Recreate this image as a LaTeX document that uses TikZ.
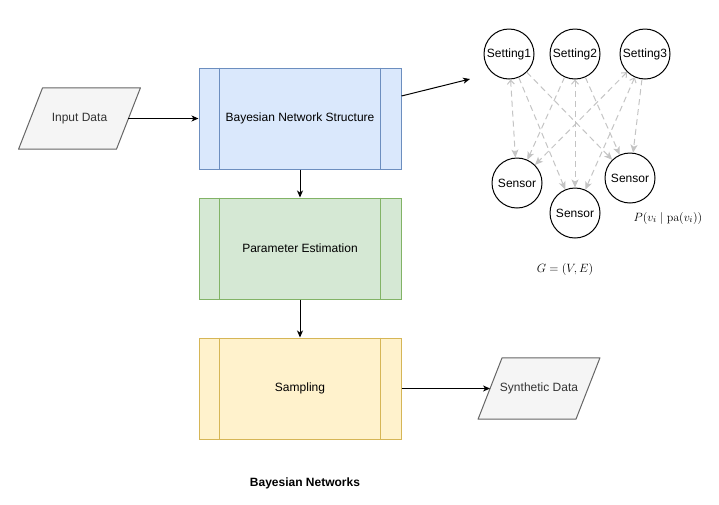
\documentclass[tikz,border=0pt]{standalone}
\usepackage[no-math]{fontspec}
\setmainfont{Liberation Sans}
\usepackage{xcolor}
\usetikzlibrary{arrows.meta,backgrounds}

\definecolor{bnsfill}{HTML}{DAE8FC}
\definecolor{bnsline}{HTML}{6C8EBF}
\definecolor{pefill}{HTML}{D5E8D4}
\definecolor{peline}{HTML}{82B366}
\definecolor{smpfill}{HTML}{FFF2CC}
\definecolor{smpline}{HTML}{D6B656}
\definecolor{iofill}{HTML}{F5F5F5}
\definecolor{ioline}{HTML}{666666}
\definecolor{iotext}{HTML}{333333}
\definecolor{edgegray}{HTML}{C4C4C4}

\tikzset{
  procbox/.style={draw, line width=1pt, minimum width=202pt, minimum height=101pt, inner sep=0pt, font=\fontsize{12}{14}\selectfont},
  iobox/.style={text=iotext, minimum width=97.5pt, minimum height=61pt, inner sep=0pt, font=\fontsize{12}{14}\selectfont},
  ioshape/.style={draw=ioline, fill=iofill, line width=1pt, line join=round},
  varnode/.style={circle, draw, line width=1pt, minimum size=50pt, inner sep=0pt, font=\fontsize{12}{14}\selectfont},
  flow/.style={line width=1pt, -{Stealth[length=7pt,width=6pt,inset=2pt]}},
  depend/.style={edgegray, line width=1pt, dash pattern=on 6pt off 4pt, -{Stealth[length=8pt,width=7pt,inset=2pt]}},
  bothway/.style={{Straight Barb[length=4pt,width=7pt]}-{Stealth[length=8pt,width=7pt,inset=2pt]}}
}

\begin{document}
\begin{tikzpicture}[x=1pt,y=-1pt]
\useasboundingbox (0,0) rectangle (719,504);

% Main flow
\node[iobox] (input) at (79.5,118.5) {Input Data};
\node[procbox, fill=bnsfill, draw=bnsline] (bns) at (300,118.5) {Bayesian Network Structure};
\node[procbox, fill=pefill, draw=peline] (pe) at (300,248.5) {Parameter Estimation};
\node[procbox, fill=smpfill, draw=smpline] (smp) at (300,388.5) {Sampling};
\node[iobox] (synth) at (539,388.5) {Synthetic Data};
% parallelograms behind the data nodes
\begin{pgfonlayer}{background}
\foreach \n in {input, synth}
  \draw[ioshape] ([xshift=-12pt]\n.south west) -- ([xshift=-12pt]\n.south east)
    -- ([xshift=12pt]\n.north east) -- ([xshift=12pt]\n.north west) -- cycle;
\end{pgfonlayer}
% side bars of the process boxes
\foreach \n/\c in {bns/bnsline, pe/peline, smp/smpline} {
  \draw[\c, line width=1pt] ([xshift=21pt]\n.north west) -- ([xshift=21pt]\n.south west);
  \draw[\c, line width=1pt] ([xshift=-21pt]\n.north east) -- ([xshift=-21pt]\n.south east);
}
\draw[flow] (input.east) -- (bns.west);
\draw[flow] (bns.south) -- (pe.north);
\draw[flow] (pe.south) -- (smp.north);
\draw[flow] (smp.east) -- (synth.west);

% Network graph
\coordinate (netin) at (470,79);
\draw[flow] ([yshift=22.5pt]bns.east) -- (netin);
\node[varnode] (set1) at (509,54) {Setting1};
\node[varnode] (set2) at (575,54) {Setting2};
\node[varnode] (set3) at (645,54) {Setting3};
\node[varnode] (senL) at (517,183) {Sensor};
\node[varnode] (senM) at (575,213) {Sensor};
\node[varnode] (senR) at (630,178) {Sensor};
\draw[depend, bothway] (set1) -- (senL);
\draw[depend] (set1) -- (senM);
\draw[depend] (set1) -- (senR);
\draw[depend] (set2) -- (senL);
\draw[depend, bothway] (set2) -- (senM);
\draw[depend] (set2) -- (senR);
\draw[depend, bothway] (set3) -- (senL);
\draw[depend, bothway] (set3) -- (senM);
\draw[depend] (set3) -- (senR);

% Labels
\node[font=\fontsize{12.5}{14}\selectfont] (cpd) at (668,218) {$P(v_i \mid \mathrm{pa}(v_i))$};
\node[font=\fontsize{12}{14}\selectfont] (graph) at (565,269) {$G = (V,E)$};
\node[font=\fontsize{12}{14}\selectfont\bfseries] (title) at (305,483) {Bayesian Networks};

\end{tikzpicture}
\end{document}
